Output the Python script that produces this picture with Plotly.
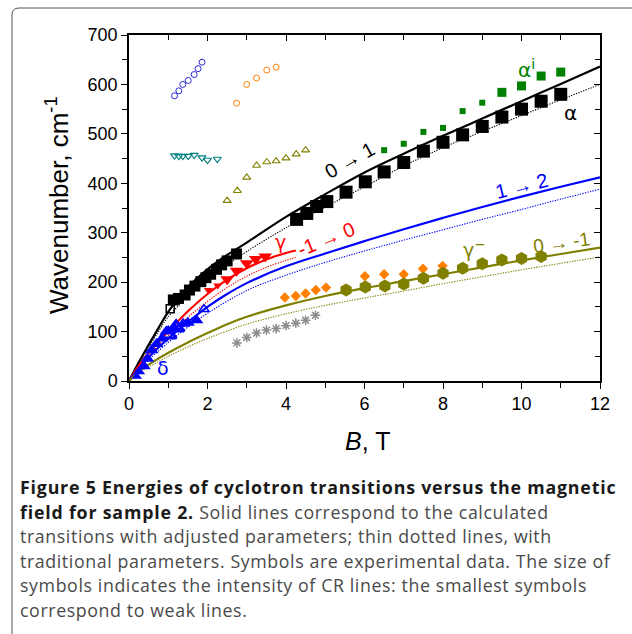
import plotly.graph_objects as go

# ---------------- theory curves ----------------
B_black_solid = [0, 0.25, 0.5, 0.75, 1, 1.5, 2, 2.5, 3, 4, 5, 6, 7, 8, 9, 10, 11, 12]
W_black_solid = [0, 38, 73, 107, 140, 190, 226, 255, 280, 332, 378, 422, 460, 496, 531, 566, 601, 636]
B_black_dot = [0, 0.25, 0.5, 0.75, 1, 1.5, 2, 2.5, 3, 4, 5, 6, 7, 8, 9, 10, 11, 12]
W_black_dot = [0, 35, 68, 100, 130, 170, 205, 235, 262, 310, 352, 393, 435, 472, 505, 537, 569, 600]

B_red_solid = [0, 0.25, 0.5, 1, 1.5, 2, 2.5, 3, 3.5, 4, 4.25]
W_red_solid = [0, 31, 57, 100, 141, 176, 205, 228, 246, 259, 264]
B_red_dot = [0, 0.25, 0.5, 1, 1.5, 2, 2.5, 3, 3.5, 4, 4.25]
W_red_dot = [0, 28, 52, 92, 129, 161, 189, 212, 230, 244, 250]

B_blue_solid = [0, 0.25, 0.5, 1, 1.5, 2, 2.5, 3, 4, 5, 6, 7, 8, 9, 10, 11, 12]
W_blue_solid = [0, 26, 48, 86, 119, 150, 176, 198, 232, 258, 283, 307, 330, 352, 373, 393, 412]
B_blue_dot = [0, 0.25, 0.5, 1, 1.5, 2, 3, 4, 5, 6, 7, 8, 9, 10, 11, 12]
W_blue_dot = [0, 23, 43, 78, 109, 137, 183, 214, 240, 263, 285, 306, 327, 347, 368, 388]

B_olive_solid = [0, 0.25, 0.5, 1, 1.5, 2, 2.5, 3, 4, 5, 6, 7, 8, 9, 10, 11, 12]
W_olive_solid = [0, 19, 33, 57, 78, 97, 115, 130, 153, 172, 188, 202, 216, 230, 244, 257, 270]
B_olive_dot = [0, 0.25, 0.5, 1, 1.5, 2, 3, 4, 5, 6, 7, 8, 9, 10, 11, 12]
W_olive_dot = [0, 16, 28, 50, 69, 86, 115, 136, 153, 168, 182, 197, 211, 225, 238, 251]

# ---------------- experimental points ----------------
# intensity level: 1 = weak (small symbol), 2 = medium, 3 = strong (big symbol)
alpha_B = [1.13, 1.26, 1.43, 1.54, 1.68, 1.83, 1.96, 2.08, 2.23, 2.36, 2.5, 2.74,
           4.27, 4.53, 4.78, 5.04, 5.53, 6.02, 6.5, 7.0, 7.5, 8.0, 8.5, 9.0, 9.5, 10.0, 10.5, 11.0]
alpha_W = [164, 167, 174, 184, 192, 201, 209, 216, 226, 235, 243, 257,
           327, 339, 353, 363, 382, 403, 423, 442, 465, 483, 498, 515, 534, 550, 566, 580]
alpha_level = [2] * 12 + [3] * 16

alpha_open_B = [1.05]
alpha_open_W = [146]

alpha_i_B = [6.5, 7.0, 7.5, 8.0, 8.5, 9.0, 9.5, 10.0, 10.5, 11.0]
alpha_i_W = [467, 480, 504, 512, 546, 563, 584, 597, 617, 625]
alpha_i_level = [1, 1, 1, 1, 1, 1, 2, 2, 2, 2]

gamma_B = [2.02, 2.26, 2.5, 2.74, 3.0, 3.23, 3.47]
gamma_W = [184, 193, 206, 223, 238, 247, 252]
gamma_level = [1, 1, 2, 2, 2, 2, 2]

delta_B = [0.2, 0.28, 0.38, 0.47, 0.58, 0.7, 0.84, 0.95, 1.15, 1.38, 1.5, 1.72]
delta_W = [9, 18, 30, 45, 62, 75, 86, 100, 108, 116, 118, 123]
delta_level = [1, 1, 2, 2, 2, 2, 2, 2, 2, 2, 2, 2]
delta_big_B = [1.0, 1.2]
delta_big_W = [94, 108]
delta_open_B = [1.91]
delta_open_W = [145]

gamma_minus_B = [5.53, 6.02, 6.52, 7.0, 7.5, 8.0, 8.5, 9.0, 9.5, 10.0, 10.5]
gamma_minus_W = [184, 190, 192, 196, 208, 218, 228, 237, 245, 248, 252]

orange_d_B = [3.97, 4.25, 4.5, 4.76, 5.02, 6.01, 6.5, 7.0, 7.49, 7.99]
orange_d_W = [169, 172, 177, 184, 189, 212, 216, 216, 227, 233]

gray_ast_B = [2.75, 3.0, 3.25, 3.5, 3.75, 4.0, 4.25, 4.5, 4.75]
gray_ast_W = [77, 88, 97, 103, 106, 112, 117, 123, 133]

blue_oc_B = [1.16, 1.27, 1.37, 1.51, 1.66, 1.76, 1.86]
blue_oc_W = [577, 587, 600, 608, 620, 632, 645]

orange_oc_B = [2.74, 3.0, 3.25, 3.51, 3.75]
orange_oc_W = [562, 600, 613, 629, 635]

teal_tri_B = [1.16, 1.27, 1.37, 1.51, 1.66, 1.86, 2.0, 2.25]
teal_tri_W = [456, 455, 455, 455, 457, 452, 447, 449]

olive_tri_B = [2.5, 2.76, 3.0, 3.25, 3.51, 3.75, 4.0, 4.26, 4.5]
olive_tri_W = [365, 385, 412, 436, 443, 445, 451, 459, 467]

x_ticks = [0, 2, 4, 6, 8, 10, 12]
y_ticks = [0, 100, 200, 300, 400, 500, 600, 700]

caption_bold = ["Figure 5 Energies of cyclotron transitions versus the magnetic",
                "field for sample 2.", "", "", "", ""]
caption_rest = ["",
                " Solid lines correspond to the calculated",
                "transitions with adjusted parameters; thin dotted lines, with",
                "traditional parameters. Symbols are experimental data. The size of",
                "symbols indicates the intensity of CR lines: the smallest symbols",
                "correspond to weak lines."]

# ---------------- figure ----------------
W_PX, H_PX = 632, 634
ML, MR, MT, MB = 129, 32, 35, 253
PW, PH = W_PX - ML - MR, H_PX - MT - MB


def px_x(px):
    return (px - ML) / PW


def px_y(py):
    return (MT + PH - py) / PH


BLACK = "#000000"
RED = "#ff0000"
BLUE = "#0000ff"
OLIVE = "#808000"
GREEN = "#008000"
ORANGE = "#ff8000"
GRAY = "#8c8c8c"
TEAL = "#008080"

fig = go.Figure()


def curve(B, W, color, dotted):
    fig.add_trace(go.Scatter(
        x=B, y=W, mode="lines", line_shape="spline",
        line=dict(color=color, width=1.1 if dotted else 2.2,
                  dash="1.3px,1.3px" if dotted else "solid", smoothing=1.0),
        showlegend=False, hoverinfo="skip"))


curve(B_black_dot, W_black_dot, BLACK, True)
curve(B_red_dot, W_red_dot, RED, True)
curve(B_blue_dot, W_blue_dot, BLUE, True)
curve(B_olive_dot, W_olive_dot, OLIVE, True)
curve(B_black_solid, W_black_solid, BLACK, False)
curve(B_red_solid, W_red_solid, RED, False)
curve(B_blue_solid, W_blue_solid, BLUE, False)
curve(B_olive_solid, W_olive_solid, OLIVE, False)


def pts(B, W, symbol, color, size, line_color=None, line_width=0):
    fig.add_trace(go.Scatter(
        x=B, y=W, mode="markers", cliponaxis=False,
        marker=dict(symbol=symbol, color=color, size=size, opacity=1,
                    line=dict(color=line_color or color, width=line_width)),
        showlegend=False, hoverinfo="skip"))


pts(blue_oc_B, blue_oc_W, "circle-open", "#2a2ad0", 6, line_width=1)
pts(orange_oc_B, orange_oc_W, "circle-open", ORANGE, 6, line_width=1)
pts(teal_tri_B, teal_tri_W, "triangle-down-open", TEAL, 7, line_width=1.1)
pts(olive_tri_B, olive_tri_W, "triangle-up-open", OLIVE, 7, line_width=1.1)
pts(gray_ast_B, gray_ast_W, "asterisk-open", GRAY, 8, line_width=1.5)
pts(orange_d_B, orange_d_W, "diamond", ORANGE, 8)
pts(gamma_minus_B, gamma_minus_W, "hexagon", OLIVE, 13)
pts(alpha_i_B, alpha_i_W, "square", GREEN, [{1: 6, 2: 9}[v] for v in alpha_i_level])
pts(alpha_B, alpha_W, "square", BLACK, [{2: 11, 3: 13}[v] for v in alpha_level])
pts(alpha_open_B, alpha_open_W, "square-open", BLACK, 8, line_width=1.5)
pts(gamma_B, gamma_W, "triangle-down", RED, [{1: 8, 2: 12}[v] for v in gamma_level])
pts(delta_B, delta_W, "triangle-up", BLUE, [{1: 9, 2: 12}[v] for v in delta_level])
pts(delta_big_B, delta_big_W, "triangle-up-open", BLUE, 14, line_width=3)
pts(delta_open_B, delta_open_W, "triangle-up-open", BLUE, 9, line_width=1.5)

# mirror axes with inward ticks
fig.add_trace(go.Scatter(x=[0], y=[0], xaxis="x2", yaxis="y2", mode="markers",
                         marker=dict(size=1, opacity=0), showlegend=False, hoverinfo="skip"))

TXT = "Liberation Sans, Arial, sans-serif"
GREEK = "DejaVu Sans, sans-serif"
ann = []


def label(x, y, text, color, size=20, angle=0, family=TXT):
    ann.append(dict(x=x, y=y, xref="x", yref="y", text=text, showarrow=False,
                    font=dict(family=family, size=size, color=color), textangle=angle,
                    xanchor="center", yanchor="middle"))


label(10.12, 632, "α<sup>i</sup>", GREEN, 20, family=GREEK)
label(11.25, 542, "α", BLACK, 20, family=GREEK)
label(5.63, 447, "0 → 1", BLACK, 20, -29)
label(9.99, 395, "1 → 2", BLUE, 20, -14)
label(3.85, 282, "γ", RED, 19, family=GREEK)
label(5.03, 288, "-1 → 0", RED, 20, -22)
label(8.8, 268, "γ<sup>−</sup>", OLIVE, 19, family=GREEK)
label(11.03, 281, "0 → -1", OLIVE, 19, -8)
label(0.87, 26, "δ", BLUE, 19, family=GREEK)

# axis titles
ann.append(dict(x=px_x(57), y=px_y(205), xref="paper", yref="paper",
                text="Wavenumber, cm<sup>-1</sup>", showarrow=False, textangle=-90,
                font=dict(family=TXT, size=26, color=BLACK), xanchor="center", yanchor="middle"))
ann.append(dict(x=px_x(367), y=px_y(441), xref="paper", yref="paper",
                text="<i>B</i>, T", showarrow=False,
                font=dict(family=TXT, size=25, color=BLACK), xanchor="center", yanchor="middle"))

# caption
cap_y = [487, 511.5, 536, 560.5, 585, 609.5]
for bold, rest, yy in zip(caption_bold, caption_rest, cap_y):
    parts = []
    if bold:
        parts.append(f'<span style="letter-spacing:0.8px;color:#1a1a1a"><b>{bold}</b></span>')
    if rest:
        parts.append(f'<span style="letter-spacing:0.6px">{rest}</span>')
    ann.append(dict(x=px_x(18), y=px_y(yy), xref="paper", yref="paper",
                    text="".join(parts),
                    showarrow=False, xanchor="left", yanchor="middle", align="left",
                    font=dict(family="Open Sans, sans-serif", size=17.8, color="#4a4a4a")))

# figure frame (rounded box)
xl, yt, r = 12, 8, 7
frame = (f"M {px_x(xl)} {px_y(700)} L {px_x(xl)} {px_y(yt + r)} "
         f"Q {px_x(xl)} {px_y(yt)} {px_x(xl + r)} {px_y(yt)} L {px_x(700)} {px_y(yt)}")

axis_common = dict(showgrid=False, zeroline=False, tickcolor=BLACK, tickwidth=1.3)
fig.update_layout(
    width=W_PX, height=H_PX, margin=dict(l=ML, r=MR, t=MT, b=MB),
    paper_bgcolor="white", plot_bgcolor="white",
    xaxis=dict(range=[0, 12], tickvals=x_ticks, ticks="outside", ticklen=6, showline=True,
               mirror=True, linecolor=BLACK, linewidth=1.5,
               tickfont=dict(family=TXT, size=18, color=BLACK),
               minor=dict(dtick=1, ticks="outside", ticklen=5, tickcolor=BLACK, tickwidth=1.3),
               **axis_common),
    yaxis=dict(range=[0, 700], tickvals=y_ticks, ticks="outside", ticklen=6, showline=True,
               mirror=True, linecolor=BLACK, linewidth=1.5,
               tickfont=dict(family=TXT, size=18, color=BLACK),
               minor=dict(dtick=50, ticks="outside", ticklen=5, tickcolor=BLACK, tickwidth=1.3),
               **axis_common),
    xaxis2=dict(range=[0, 12], overlaying="x", side="top", anchor="y", tickvals=x_ticks,
                ticks="inside", ticklen=6, showticklabels=False, showline=False,
                minor=dict(dtick=1, ticks="inside", ticklen=5, tickcolor=BLACK, tickwidth=1.3),
                **axis_common),
    yaxis2=dict(range=[0, 700], overlaying="y", side="right", anchor="x", tickvals=y_ticks,
                ticks="inside", ticklen=6, showticklabels=False, showline=False,
                minor=dict(dtick=50, ticks="inside", ticklen=5, tickcolor=BLACK, tickwidth=1.3),
                **axis_common),
    annotations=ann,
    shapes=[dict(type="path", xref="paper", yref="paper", path=frame,
                 line=dict(color="#555555", width=1))],
)

fig.write_html("out.html")
